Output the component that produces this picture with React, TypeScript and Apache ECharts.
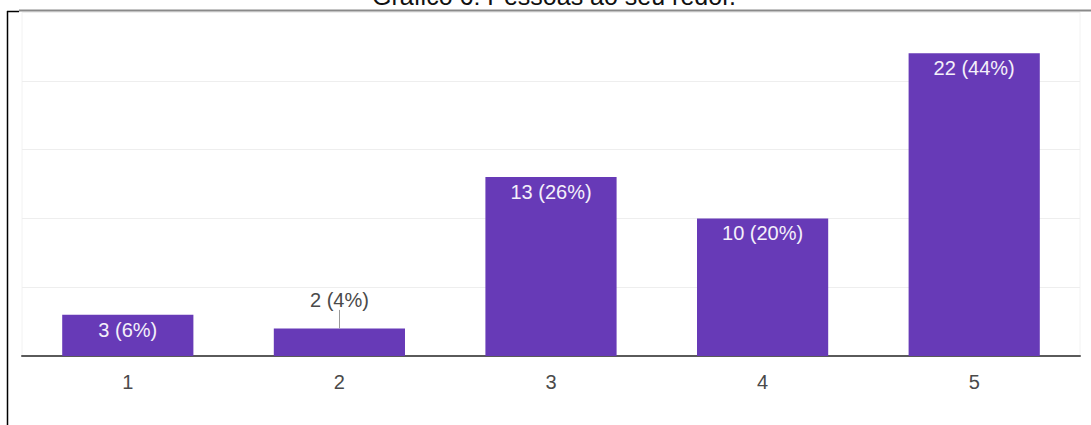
import React, { useEffect, useRef } from "react";
import * as echarts from "echarts";

const titleText = "Gráfico 6: Pessoas ao seu redor.";
const categories = ["1", "2", "3", "4", "5"];
const counts = [3, 2, 13, 10, 22];
const percents = [6, 4, 26, 20, 44];
const yTicks = [0, 5, 10, 15, 20, 25];

const PURPLE = "#673ab7";

export default function App() {
  const ref = useRef<HTMLDivElement>(null);
  useEffect(() => {
    if (!ref.current) return;
    const chart = echarts.init(ref.current, null, { renderer: "svg" });
    const data = counts.map((v, i) => {
      const outside = v < 3;
      return {
        value: v,
        label: outside
          ? { position: "top", distance: 18, color: "#4a4a4a" }
          : { position: "insideTop", distance: 5, color: "#f4f0fa" },
      };
    });
    chart.setOption({
      animation: false,
      backgroundColor: "#ffffff",
      grid: {
        left: 22,
        right: 11,
        top: 12,
        bottom: 69,
        show: true,
        borderColor: "#f2f2f2",
        borderWidth: 1,
      },
      xAxis: {
        type: "category",
        data: categories,
        axisLine: { show: true, lineStyle: { color: "#5a5a5a", width: 2 } },
        axisTick: { show: false },
        axisLabel: {
          color: "#4a4a4a",
          fontSize: 20,
          fontFamily: "Liberation Sans, Arial, sans-serif",
          margin: 16,
        },
      },
      yAxis: {
        type: "value",
        min: yTicks[0],
        max: yTicks[yTicks.length - 1],
        interval: yTicks[1] - yTicks[0],
        axisLabel: { show: false },
        axisLine: { show: false },
        axisTick: { show: false },
        splitLine: { lineStyle: { color: "#eeeeee", width: 1 } },
      },
      series: [
        {
          type: "bar",
          data,
          barCategoryGap: "38%",
          itemStyle: { color: PURPLE },
          label: {
            show: true,
            fontSize: 20,
            fontFamily: "Liberation Sans, Arial, sans-serif",
            formatter: (p: any) => `${counts[p.dataIndex]} (${percents[p.dataIndex]}%)`,
          },
          markLine: {
            silent: true,
            symbol: ["none", "none"],
            label: { show: false },
            lineStyle: { color: "#9a9a9a", type: "solid", width: 1 },
            data: [[{ coord: ["2", 2] }, { coord: ["2", 3.35] }]],
          },
        },
      ],
      graphic: [
        {
          type: "text",
          x: 554,
          y: -4,
          style: {
            text: titleText,
            fontSize: 25,
            fontFamily: "Liberation Sans, Arial, sans-serif",
            fill: "#111111",
            align: "center",
            verticalAlign: "middle",
          },
        },
        {
          type: "line",
          shape: { x1: 19, y1: 10.5, x2: 1091, y2: 10.5 },
          style: { stroke: "#8a8a8a", lineWidth: 2 },
        },
        {
          type: "line",
          shape: { x1: 7, y1: 11.5, x2: 19, y2: 11.5 },
          style: { stroke: "#000000", lineWidth: 1.5 },
        },
        {
          type: "line",
          shape: { x1: 7.5, y1: 11, x2: 7.5, y2: 425 },
          style: { stroke: "#000000", lineWidth: 1.5 },
        },
      ],
    });
    return () => chart.dispose();
  }, []);
  return (
    <div
      ref={ref}
      style={{ position: "fixed", left: 0, top: 0, width: 1091, height: 425 }}
    />
  );
}
